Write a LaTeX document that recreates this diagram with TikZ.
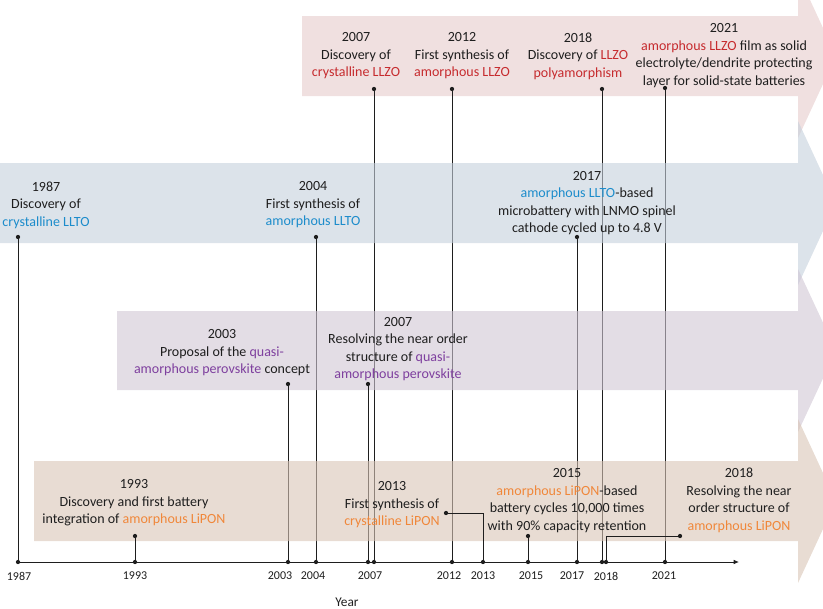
\documentclass[tikz,border=0pt]{standalone}
\usepackage{fontspec}
\setmainfont{Carlito}
\usetikzlibrary{arrows.meta, positioning}
\definecolor{InkDark}{HTML}{1E1E1E}
\definecolor{LLZORed}{HTML}{C62B2E}
\definecolor{LLTOBlue}{HTML}{1C8CCB}
\definecolor{PerovPurple}{HTML}{7E3F9E}
\definecolor{LiPONOrange}{HTML}{F0873A}
\definecolor{LLZOBand}{HTML}{E6CBCB}
\definecolor{LLTOBand}{HTML}{C5D0DC}
\definecolor{PerovBand}{HTML}{D0C6D4}
\definecolor{LiPONBand}{HTML}{D9C5B6}

\begin{document}
\begin{tikzpicture}[x=0.75pt, y=-0.75pt,
    event/.style={font=\fontsize{10.5}{13.1}\selectfont, align=center, inner sep=0pt, text=InkDark},
    yearlbl/.style={font=\fontsize{9}{10}\selectfont, inner sep=0pt, text=InkDark},
    dot/.style={circle, fill=InkDark, inner sep=0pt, minimum size=3.2pt},
    link/.style={draw=InkDark, line width=0.7pt},
    band/.style={fill opacity=0.6}]
    \useasboundingbox (0,0) rectangle (823,608);

    % Year axis
    \foreach \nm/\x in {1987/18, 1993/135, 2003/288, 2004/316, 2007p/368, 2007z/374, 2012/452, 2013/483,
                        2015/528, 2017/577, 2018z/602, 2018l/606, 2021/665}
        \node[dot] (a\nm) at (\x,562) {};
    \foreach \nm/\x in {1987/19, 1993/135, 2003/280, 2004/313, 2007/370, 2012/449, 2013/483,
                        2015/531, 2017/572, 2018/606, 2021/664}
        \node[yearlbl] (lbl\nm) at (\x,576) {\nm};
    \coordinate (axisend) at (739,562);
    \draw[link, -{Latex[length=4pt, width=3.5pt]}] (a1987.center) -- (axisend);
    \node[event, font=\fontsize{10}{12}\selectfont] (yearaxis) at (347,602) {Year};

    % LLZO
    \fill[LLZOBand, band] (302,16) -- (798,16) -- (798,-26) -- (836,56) -- (798,138) -- (798,96) -- (302,96) -- cycle;
    \node[event] (z2007) at (356,56) {2007\\Discovery of\\\textcolor{LLZORed}{crystalline LLZO}};
    \node[event] (z2012) at (462,56) {2012\\First synthesis of\\\textcolor{LLZORed}{amorphous LLZO}};
    \node[event] (z2018) at (578,56) {2018\\Discovery of \textcolor{LLZORed}{LLZO}\\\textcolor{LLZORed}{polyamorphism}};
    \node[event] (z2021) at (724,55.5) {2021\\\textcolor{LLZORed}{amorphous LLZO} film as solid\\electrolyte/dendrite protecting\\layer for solid-state batteries};
    \node[dot] (dz2007) at (374,89) {};
    \node[dot] (dz2012) at (452,89) {};
    \node[dot] (dz2018) at (602,89) {};
    \node[dot] (dz2021) at (665,88) {};
    \draw[link] (dz2007.center) -- (a2007z.center);
    \draw[link] (dz2012.center) -- (a2012.center);
    \draw[link] (dz2018.center) -- (a2018z.center);
    \draw[link] (dz2021.center) -- (a2021.center);

    % LLTO
    \fill[LLTOBand, band] (0,163) -- (798,163) -- (798,121) -- (836,203) -- (798,285) -- (798,243) -- (0,243) -- cycle;
    \node[event] (t1987) at (46,205) {1987\\Discovery of\\\textcolor{LLTOBlue}{crystalline LLTO}};
    \node[event] (t2004) at (313,205) {2004\\First synthesis of\\\textcolor{LLTOBlue}{amorphous LLTO}};
    \node[event] (t2017) at (587,203) {2017\\\textcolor{LLTOBlue}{amorphous LLTO}-based\\microbattery with LNMO spinel\\cathode cycled up to 4.8 V};
    \node[dot] (dt1987) at (18,237) {};
    \node[dot] (dt2004) at (316,237) {};
    \node[dot] (dt2017) at (577,237) {};
    \draw[link] (dt1987.center) -- (a1987.center);
    \draw[link] (dt2004.center) -- (a2004.center);
    \draw[link] (dt2017.center) -- (a2017.center);

    % quasi-amorphous perovskite
    \fill[PerovBand, band] (117,311) -- (798,311) -- (798,269) -- (836,350.5) -- (798,432) -- (798,390) -- (117,390) -- cycle;
    \node[event] (p2003) at (222,353) {2003\\Proposal of the \textcolor{PerovPurple}{quasi-}\\\textcolor{PerovPurple}{amorphous perovskite} concept};
    \node[event] (p2007) at (398,349) {2007\\Resolving the near order\\structure of \textcolor{PerovPurple}{quasi-}\\\textcolor{PerovPurple}{amorphous perovskite}};
    \node[dot] (dp2003) at (288,384) {};
    \node[dot] (dp2007) at (368,384) {};
    \draw[link] (dp2003.center) -- (a2003.center);
    \draw[link] (dp2007.center) -- (a2007p.center);

    % LiPON
    \fill[LiPONBand, band] (34,461) -- (798,461) -- (798,419) -- (836,501) -- (798,583) -- (798,541) -- (34,541) -- cycle;
    \node[event] (l1993) at (134,503) {1993\\Discovery and first battery\\integration of \textcolor{LiPONOrange}{amorphous LiPON}};
    \node[event] (l2013) at (392,505) {2013\\First synthesis of\\\textcolor{LiPONOrange}{crystalline LiPON}};
    \node[event] (l2015) at (567,500.5) {2015\\\textcolor{LiPONOrange}{amorphous LiPON}-based\\battery cycles 10,000 times\\with 90\% capacity retention};
    \node[event] (l2018) at (739,500.5) {2018\\Resolving the near\\order structure of\\\textcolor{LiPONOrange}{amorphous LiPON}};
    \node[dot] (dl1993) at (135,536) {};
    \node[dot] (dl2013) at (446,513) {};
    \node[dot] (dl2015) at (528,536) {};
    \node[dot] (dl2018) at (680,536) {};
    \draw[link] (dl1993.center) -- (a1993.center);
    \draw[link] (dl2013.center) -| (a2013.center);
    \draw[link] (dl2015.center) -- (a2015.center);
    \draw[link] (dl2018.center) -| (a2018l.center);
\end{tikzpicture}
\end{document}
